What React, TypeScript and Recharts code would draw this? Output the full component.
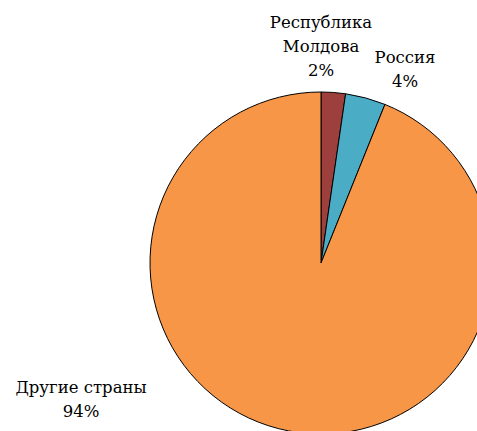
import { PieChart, Pie, Cell } from 'recharts';

// Shares by destination (the labels round them)
const countries = ['Республика Молдова', 'Россия', 'Другие страны'];
const shares = [2.3, 3.8, 93.9];
const sliceColors = ['#9C3F3D', '#4BACC6', '#F79646'];

// label lines, as wrapped in the reference
const labelLines = [['Республика', 'Молдова'], ['Россия'], ['Другие страны']];
// label anchor offsets from the pie centre (first baseline)
const labelOffsets = [
  { dx: 0, dy: -235 },
  { dx: 84, dy: -200 },
  { dx: -240, dy: 130 },
];

const data = countries.map((name, i) => ({ name, value: shares[i] }));

const renderLabel = (props: any) => {
  const { cx, cy, index, value } = props;
  const off = labelOffsets[index];
  const lines = [...labelLines[index], `${Math.round(value)}%`];
  return (
    <g>
      <text x={cx + off.dx} y={cy + off.dy} textAnchor="middle" fill="#000" fontFamily="DejaVu Serif" fontSize={16.5}>
        {lines.map((l, k) => (
          <tspan key={k} x={cx + off.dx} dy={k === 0 ? 0 : 24}>
            {l}
          </tspan>
        ))}
      </text>
    </g>
  );
};

export default function App() {
  return (
    <div style={{ position: 'absolute', left: 0, top: 0, width: 477, height: 431, background: '#fff' }}>
      <PieChart width={477} height={431} margin={{ top: 0, right: 0, bottom: 0, left: 0 }}>
        <Pie
          data={data}
          dataKey="value"
          nameKey="name"
          cx={321}
          cy={263}
          outerRadius={171}
          startAngle={90}
          endAngle={-270}
          stroke="#000"
          strokeWidth={1}
          label={renderLabel}
          labelLine={false}
          isAnimationActive={false}
        >
          {data.map((d, i) => (
            <Cell key={d.name} fill={sliceColors[i]} />
          ))}
        </Pie>
      </PieChart>
    </div>
  );
}
